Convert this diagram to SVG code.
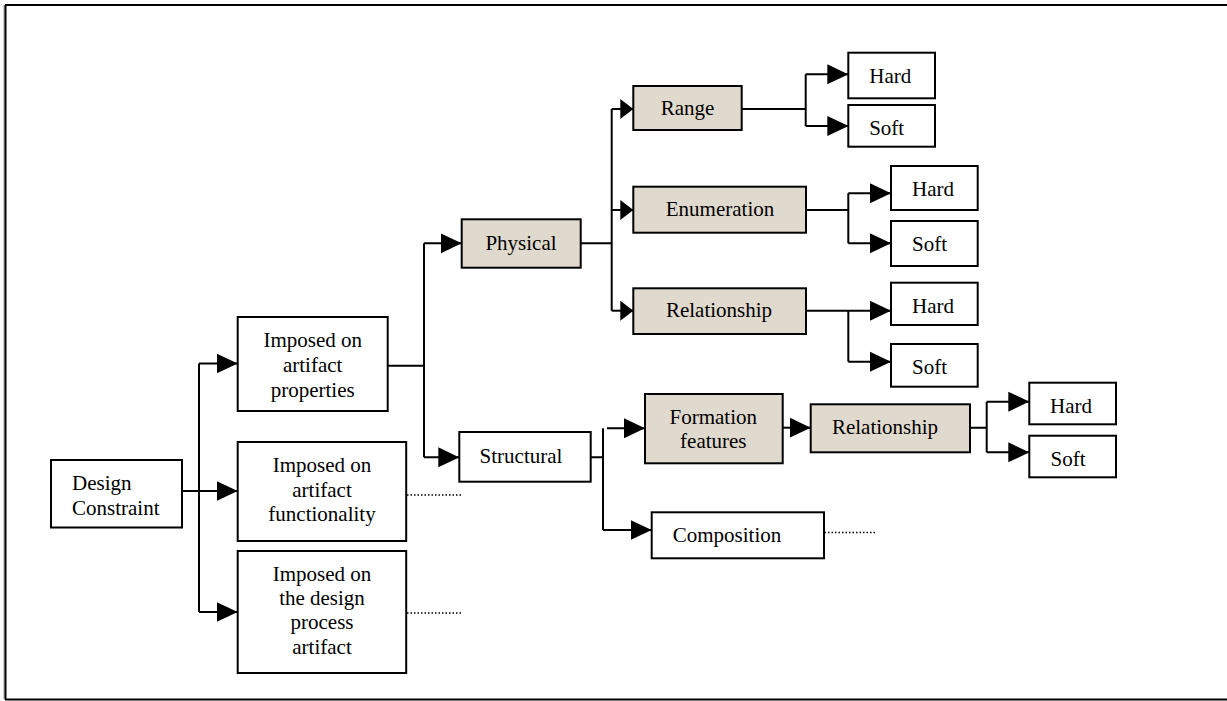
<svg xmlns="http://www.w3.org/2000/svg" width="1227" height="701" viewBox="0 0 1227 701">
<style>
.box{fill:#ffffff;stroke:#000;stroke-width:2}
.sh{fill:#e0d9cd;stroke:#000;stroke-width:2}
.t{font-family:"Liberation Serif",serif;font-size:21px;fill:#000;text-anchor:middle}
.ts{font-family:"Liberation Serif",serif;font-size:21px;fill:#000}
.c{fill:none;stroke:#000;stroke-width:2}
.a{fill:none;stroke:#000;stroke-width:2;marker-end:url(#ah)}
.an{fill:none;stroke:#000;stroke-width:2;marker-end:url(#ahn)}
.d{fill:none;stroke:#000;stroke-width:1.5;stroke-dasharray:1.5 2}
</style>
<defs>
<marker id="ah" markerUnits="userSpaceOnUse" markerWidth="21" markerHeight="21" viewBox="0 0 21 20" refX="21" refY="10" orient="auto"><path d="M0,0 L21,10 L0,20 Z" fill="#000"/></marker>
<marker id="ahn" markerUnits="userSpaceOnUse" markerWidth="13" markerHeight="20" viewBox="0 0 13 20" refX="13" refY="10" orient="auto"><path d="M0,0 L13,10 L0,20 Z" fill="#000"/></marker>
</defs>
<rect width="1227" height="701" fill="#fff"/>
<g id="frame">
<line x1="4" y1="5" x2="4" y2="699" stroke="#999" stroke-width="1"/>
<path d="M5,5 H1227 M5.5,5 V699.5 M5,699.5 H1227" fill="none" stroke="#000" stroke-width="2"/>
</g>
<g id="connectors">
<path class="c" d="M182,491 H199 M199,363.5 V612"/>
<path class="a" d="M199,363.5 H237.7"/>
<path class="a" d="M199,491 H237.7"/>
<path class="a" d="M199,612 H237.7"/>
<path class="d" d="M407,495 H462 M407,613 H462"/>
<path class="c" d="M388,365.7 H424 M424,243.3 V457.3"/>
<path class="a" d="M424,243.3 H461.7"/>
<path class="a" d="M424,457.3 H459.3"/>
<path class="c" d="M580.7,243.3 H611.7 M611.7,109 V310.7"/>
<path class="an" d="M611.7,109 H633.3"/>
<path class="an" d="M611.7,210 H633.3"/>
<path class="an" d="M611.7,310.7 H633.3"/>
<path class="c" d="M741.7,109 H805.7 M805.7,74.3 V126"/>
<path class="a" d="M805.7,74.3 H848.3"/>
<path class="a" d="M805.7,126 H848.3"/>
<path class="c" d="M806,210 H848.3 M848.3,193.3 V243.3"/>
<path class="a" d="M848.3,193.3 H891"/>
<path class="a" d="M848.3,243.3 H891"/>
<path class="c" d="M848.3,310.7 V361.7"/>
<path class="a" d="M806,310.7 H891"/>
<path class="a" d="M848.3,361.7 H891"/>
<path class="c" d="M590.7,457.3 H603 M603,428.3 V530"/>
<path class="a" d="M607,428.3 H645"/>
<path class="a" d="M603,530 H651.7"/>
<path class="a" d="M782.7,427.7 H810.7"/>
<path class="d" d="M821,532.5 H876"/>
<path class="c" d="M970,427.7 H986.7 M986.7,401.7 V452.3"/>
<path class="a" d="M986.7,401.7 H1029.3"/>
<path class="a" d="M986.7,452.3 H1029.3"/>
</g>
<g id="design-constraint">
<rect class="box" x="51" y="460" width="131" height="67.5"/>
<text class="ts" x="72" y="490">Design</text>
<text class="ts" x="72" y="515">Constraint</text>
</g>
<g id="imposed-properties">
<rect class="box" x="237.7" y="317" width="150" height="94"/>
<text class="t" x="312.7" y="347">Imposed on</text>
<text class="t" x="312.7" y="372">artifact</text>
<text class="t" x="312.7" y="396.5">properties</text>
</g>
<g id="imposed-functionality">
<rect class="box" x="237.7" y="442" width="168.5" height="99"/>
<text class="t" x="322" y="472">Imposed on</text>
<text class="t" x="322" y="497">artifact</text>
<text class="t" x="322" y="521">functionality</text>
</g>
<g id="imposed-process">
<rect class="box" x="237.7" y="551" width="168.5" height="122"/>
<text class="t" x="322" y="581">Imposed on</text>
<text class="t" x="322" y="605">the design</text>
<text class="t" x="322" y="629">process</text>
<text class="t" x="322" y="654">artifact</text>
</g>
<g id="physical">
<rect class="sh" x="461.7" y="219.3" width="119" height="48.4"/>
<text class="t" x="521" y="250">Physical</text>
</g>
<g id="structural">
<rect class="box" x="459.3" y="432" width="131.4" height="49.7"/>
<text class="t" x="521" y="463">Structural</text>
</g>
<g id="range">
<rect class="sh" x="633.3" y="86" width="108.4" height="44"/>
<text class="t" x="687.5" y="115">Range</text>
</g>
<g id="enumeration">
<rect class="sh" x="633.3" y="186.7" width="172.7" height="46"/>
<text class="t" x="720" y="216">Enumeration</text>
</g>
<g id="relationship-physical">
<rect class="sh" x="633.3" y="288.3" width="172.7" height="45.7"/>
<text class="t" x="719" y="316.7">Relationship</text>
</g>
<g id="range-hard">
<rect class="box" x="848.3" y="52.7" width="86.7" height="45.6"/>
<text class="t" x="890.3" y="82.7">Hard</text>
</g>
<g id="range-soft">
<rect class="box" x="848.3" y="105" width="86.7" height="41.7"/>
<text class="t" x="886.7" y="135">Soft</text>
</g>
<g id="enum-hard">
<rect class="box" x="891" y="166" width="86.7" height="44"/>
<text class="t" x="933" y="196">Hard</text>
</g>
<g id="enum-soft">
<rect class="box" x="891" y="221" width="86.7" height="45"/>
<text class="t" x="929.5" y="250.7">Soft</text>
</g>
<g id="rel-hard">
<rect class="box" x="891" y="282.7" width="86.7" height="42.3"/>
<text class="t" x="933" y="312.7">Hard</text>
</g>
<g id="rel-soft">
<rect class="box" x="891" y="344" width="86.7" height="42.7"/>
<text class="t" x="929.5" y="374.3">Soft</text>
</g>
<g id="formation-features">
<rect class="sh" x="645" y="394" width="137.7" height="69.3"/>
<text class="t" x="713.3" y="424.3">Formation</text>
<text class="t" x="713.3" y="447.7">features</text>
</g>
<g id="relationship-structural">
<rect class="sh" x="810.7" y="404.3" width="159.3" height="48"/>
<text class="t" x="885" y="434.3">Relationship</text>
</g>
<g id="struct-hard">
<rect class="box" x="1029.3" y="382.7" width="86.7" height="41.6"/>
<text class="t" x="1071" y="412.7">Hard</text>
</g>
<g id="struct-soft">
<rect class="box" x="1029.3" y="435.7" width="86.7" height="41.6"/>
<text class="t" x="1068" y="466">Soft</text>
</g>
<g id="composition">
<rect class="box" x="651.7" y="512.3" width="172.3" height="46"/>
<text class="t" x="727" y="542.3">Composition</text>
</g>
</svg>
